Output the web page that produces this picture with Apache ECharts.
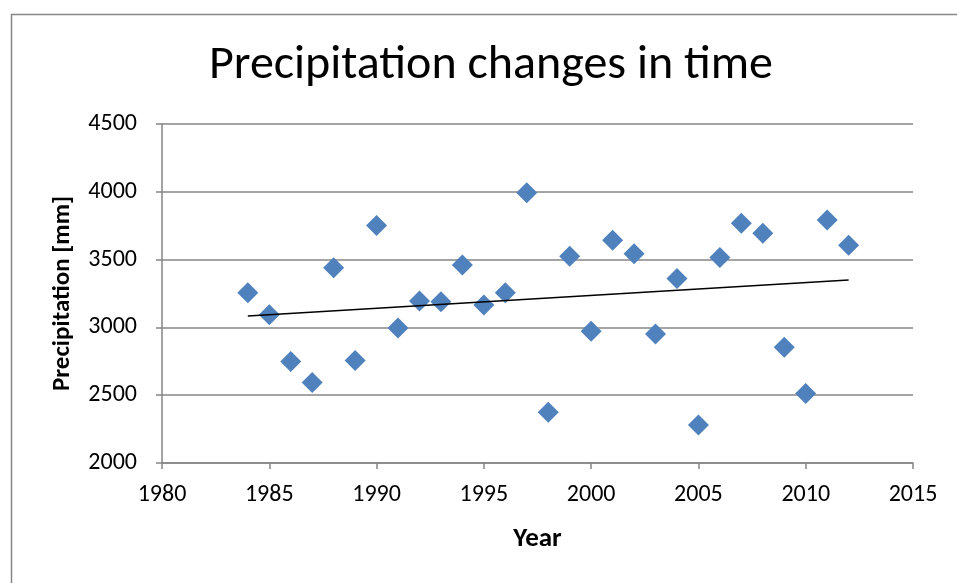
<!DOCTYPE html>
<html>
<head>
<meta charset="utf-8">
<script src="https://cdn.jsdelivr.net/npm/echarts@6/dist/echarts.min.js"></script>
<style>
html,body{margin:0;padding:0;background:#fff;}
#chart{width:957px;height:583px;}
</style>
</head>
<body>
<div id="chart"></div>
<script>
var titleText = 'Precipitation changes in time';
var xAxisName = 'Year';
var yAxisName = 'Precipitation [mm]';
var years = [1984,1985,1986,1987,1988,1989,1990,1991,1992,1993,1994,1995,1996,1997,1998,1999,2000,2001,2002,2003,2004,2005,2006,2007,2008,2009,2010,2011,2012];
var precipitation = [3256,3093,2749,2593,3439,2756,3751,2996,3195,3190,3461,3166,3256,3993,2374,3524,2971,3643,3544,2952,3361,2281,3515,3768,3694,2854,2512,3792,3605];

// linear least-squares trendline (like Excel's linear trendline)
var n = years.length, sx = 0, sy = 0, sxx = 0, sxy = 0;
for (var i = 0; i < n; i++) { sx += years[i]; sy += precipitation[i]; sxx += years[i]*years[i]; sxy += years[i]*precipitation[i]; }
var slope = (n*sxy - sx*sy) / (n*sxx - sx*sx);
var intercept = (sy - slope*sx) / n;
var xFirst = years[0], xLast = years[n-1];
var trend = [[xFirst, intercept + slope*xFirst], [xLast, intercept + slope*xLast]];

var points = years.map(function(y, i){ return [y, precipitation[i]]; });
var FONT = 'Carlito, Lato, "Open Sans", sans-serif';
var AX = '#868686';
var plain = function(v){ return String(v); };

var chart = echarts.init(document.getElementById('chart'), null, {renderer:'canvas'});
chart.setOption({
  backgroundColor: '#fff',
  animation: false,
  title: {
    text: titleText, left: 204, top: 37,
    textStyle: {fontFamily: FONT, fontSize: 48, fontWeight: 'normal', color: '#000'}
  },
  graphic: [{
    type: 'rect', left: 9, top: 12, shape: {width: 1000, height: 700},
    style: {fill: 'none', stroke: AX, lineWidth: 1.5}, silent: true
  }],
  grid: {left: 162, right: 44, top: 124, bottom: 120},
  xAxis: {
    type: 'value', min: 1980, max: 2015, interval: 5,
    name: xAxisName, nameLocation: 'middle', nameGap: 63,
    nameTextStyle: {fontFamily: FONT, fontSize: 27, fontWeight: 'bold', color: '#000'},
    axisLine: {show: true, lineStyle: {color: AX, width: 1.5}},
    axisTick: {show: true, length: 6, lineStyle: {color: AX, width: 1.5}},
    axisLabel: {fontFamily: FONT, fontSize: 24, color: '#000', margin: 20, formatter: plain},
    splitLine: {show: false}
  },
  yAxis: {
    type: 'value', min: 2000, max: 4500, interval: 500,
    name: yAxisName, nameLocation: 'middle', nameGap: 87, nameRotate: 90,
    nameTextStyle: {fontFamily: FONT, fontSize: 25, fontWeight: 'bold', color: '#000'},
    axisLine: {show: true, lineStyle: {color: AX, width: 1.5}},
    axisTick: {show: true, length: 6, lineStyle: {color: AX, width: 1.5}},
    axisLabel: {fontFamily: FONT, fontSize: 24, color: '#000', margin: 25, formatter: plain},
    splitLine: {show: true, lineStyle: {color: AX, width: 1.5}}
  },
  series: [{
    type: 'scatter', data: points, symbol: 'diamond', symbolSize: [21, 21],
    itemStyle: {color: '#4F81BD', opacity: 1}, z: 3
  }, {
    type: 'line', data: trend, symbol: 'none', silent: true,
    lineStyle: {color: '#000', width: 1.5}, z: 4
  }]
});
</script>
</body>
</html>
